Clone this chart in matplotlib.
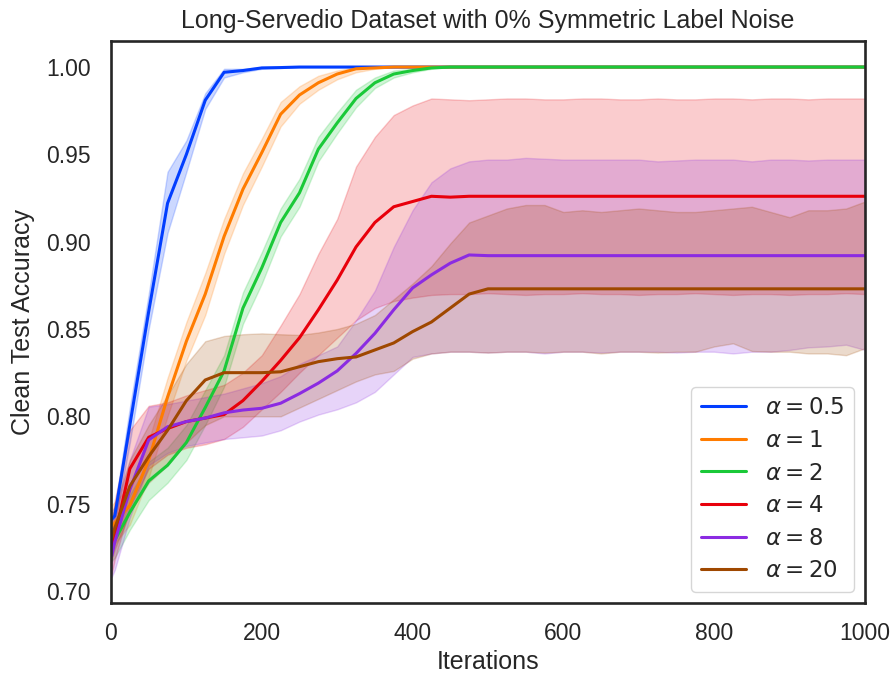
import numpy as np
import matplotlib
matplotlib.use('agg')
import matplotlib.pyplot as plt
import seaborn as sns

sns.set_style('white')
plt.rcParams['font.family'] = ['Liberation Sans', 'DejaVu Sans']

# iterations where accuracy was recorded
iters = [1, 5] + list(range(25, 1001, 25))

labels = [r'$\alpha = 0.5$', r'$\alpha = 1$', r'$\alpha = 2$',
          r'$\alpha = 4$', r'$\alpha = 8$', r'$\alpha = 20$']
colors = sns.color_palette('bright', 6)

# alpha = 0.5
a05_mean = [0.741, 0.743, 0.795, 0.860, 0.922, 0.950, 0.981, 0.997, 0.998, 0.9995, 0.9997,
            1.0, 1.0, 1.0, 1.0, 1.0, 1.0, 1.0, 1.0, 1.0, 1.0, 1.0, 1.0, 1.0, 1.0, 1.0,
            1.0, 1.0, 1.0, 1.0, 1.0, 1.0, 1.0, 1.0, 1.0, 1.0, 1.0, 1.0, 1.0, 1.0, 1.0, 1.0]
a05_lo = [0.736, 0.738, 0.785, 0.850, 0.905, 0.940, 0.976, 0.994, 0.997, 0.999, 0.9995,
          1.0, 1.0, 1.0, 1.0, 1.0, 1.0, 1.0, 1.0, 1.0, 1.0, 1.0, 1.0, 1.0, 1.0, 1.0,
          1.0, 1.0, 1.0, 1.0, 1.0, 1.0, 1.0, 1.0, 1.0, 1.0, 1.0, 1.0, 1.0, 1.0, 1.0, 1.0]
a05_hi = [0.746, 0.748, 0.805, 0.870, 0.940, 0.958, 0.985, 0.999, 0.999, 1.0, 1.0,
          1.0, 1.0, 1.0, 1.0, 1.0, 1.0, 1.0, 1.0, 1.0, 1.0, 1.0, 1.0, 1.0, 1.0, 1.0,
          1.0, 1.0, 1.0, 1.0, 1.0, 1.0, 1.0, 1.0, 1.0, 1.0, 1.0, 1.0, 1.0, 1.0, 1.0, 1.0]

# alpha = 1
a1_mean = [0.737, 0.739, 0.749, 0.775, 0.811, 0.843, 0.870, 0.903, 0.930, 0.951, 0.973,
           0.984, 0.991, 0.996, 0.999, 0.9995, 1.0, 1.0, 1.0, 1.0, 1.0, 1.0, 1.0, 1.0, 1.0,
           1.0, 1.0, 1.0, 1.0, 1.0, 1.0, 1.0, 1.0, 1.0, 1.0, 1.0, 1.0, 1.0, 1.0, 1.0, 1.0, 1.0]
a1_lo = [0.725, 0.727, 0.738, 0.765, 0.800, 0.832, 0.858, 0.893, 0.921, 0.943, 0.966,
         0.979, 0.987, 0.993, 0.997, 0.999, 1.0, 1.0, 1.0, 1.0, 1.0, 1.0, 1.0, 1.0, 1.0,
         1.0, 1.0, 1.0, 1.0, 1.0, 1.0, 1.0, 1.0, 1.0, 1.0, 1.0, 1.0, 1.0, 1.0, 1.0, 1.0, 1.0]
a1_hi = [0.749, 0.751, 0.760, 0.786, 0.822, 0.854, 0.882, 0.913, 0.939, 0.959, 0.980,
         0.989, 0.995, 0.998, 1.0, 1.0, 1.0, 1.0, 1.0, 1.0, 1.0, 1.0, 1.0, 1.0, 1.0,
         1.0, 1.0, 1.0, 1.0, 1.0, 1.0, 1.0, 1.0, 1.0, 1.0, 1.0, 1.0, 1.0, 1.0, 1.0, 1.0, 1.0]

# alpha = 2
a2_mean = [0.727, 0.729, 0.745, 0.763, 0.772, 0.785, 0.805, 0.826, 0.862, 0.885, 0.911,
           0.928, 0.953, 0.968, 0.982, 0.991, 0.996, 0.998, 0.9995, 1.0, 1.0, 1.0, 1.0, 1.0,
           1.0, 1.0, 1.0, 1.0, 1.0, 1.0, 1.0, 1.0, 1.0, 1.0, 1.0, 1.0, 1.0, 1.0, 1.0, 1.0, 1.0, 1.0]
a2_lo = [0.717, 0.719, 0.735, 0.752, 0.762, 0.775, 0.795, 0.817, 0.853, 0.876, 0.903,
         0.920, 0.946, 0.962, 0.977, 0.988, 0.994, 0.997, 0.999, 1.0, 1.0, 1.0, 1.0, 1.0,
         1.0, 1.0, 1.0, 1.0, 1.0, 1.0, 1.0, 1.0, 1.0, 1.0, 1.0, 1.0, 1.0, 1.0, 1.0, 1.0, 1.0, 1.0]
a2_hi = [0.737, 0.739, 0.755, 0.774, 0.782, 0.795, 0.815, 0.835, 0.871, 0.894, 0.919,
         0.936, 0.960, 0.974, 0.987, 0.994, 0.998, 0.999, 1.0, 1.0, 1.0, 1.0, 1.0, 1.0,
         1.0, 1.0, 1.0, 1.0, 1.0, 1.0, 1.0, 1.0, 1.0, 1.0, 1.0, 1.0, 1.0, 1.0, 1.0, 1.0, 1.0, 1.0]

# alpha = 4
a4_mean = [0.7235, 0.731, 0.770, 0.788, 0.793, 0.797, 0.799, 0.801, 0.809, 0.820, 0.832,
           0.845, 0.861, 0.878, 0.897, 0.911, 0.920, 0.923, 0.926, 0.9255, 0.926, 0.926,
           0.926, 0.926, 0.926, 0.926, 0.926, 0.926, 0.926, 0.926, 0.926, 0.926, 0.926,
           0.926, 0.926, 0.926, 0.926, 0.926, 0.926, 0.926, 0.926, 0.926]
a4_lo = [0.710, 0.718, 0.748, 0.770, 0.778, 0.782, 0.784, 0.787, 0.794, 0.804, 0.814,
         0.825, 0.835, 0.845, 0.855, 0.862, 0.866, 0.868, 0.8695, 0.870, 0.870, 0.8705,
         0.870, 0.8695, 0.870, 0.870, 0.8705, 0.870, 0.870, 0.8695, 0.870, 0.870, 0.8705,
         0.870, 0.8695, 0.870, 0.870, 0.8695, 0.870, 0.870, 0.8705, 0.870]
a4_hi = [0.737, 0.752, 0.792, 0.806, 0.808, 0.812, 0.815, 0.818, 0.825, 0.835, 0.852,
         0.870, 0.893, 0.913, 0.943, 0.960, 0.9725, 0.978, 0.982, 0.9815, 0.981, 0.9815,
         0.982, 0.982, 0.9815, 0.9815, 0.982, 0.982, 0.9815, 0.9815, 0.982, 0.9815, 0.9815,
         0.982, 0.982, 0.9815, 0.982, 0.982, 0.9815, 0.982, 0.982, 0.982]

# alpha = 8
a8_mean = [0.720, 0.728, 0.758, 0.7865, 0.794, 0.797, 0.799, 0.802, 0.8036, 0.8046, 0.8075,
           0.813, 0.819, 0.826, 0.836, 0.8475, 0.861, 0.8735, 0.881, 0.8877, 0.8924, 0.892,
           0.892, 0.892, 0.892, 0.892, 0.892, 0.892, 0.892, 0.892, 0.892, 0.892, 0.892,
           0.892, 0.892, 0.892, 0.892, 0.892, 0.892, 0.892, 0.892, 0.892]
a8_lo = [0.708, 0.712, 0.742, 0.772, 0.779, 0.783, 0.785, 0.787, 0.788, 0.789, 0.792,
         0.797, 0.801, 0.804, 0.808, 0.814, 0.824, 0.834, 0.836, 0.837, 0.837, 0.8365,
         0.837, 0.837, 0.836, 0.837, 0.837, 0.8365, 0.837, 0.837, 0.837, 0.8365, 0.837,
         0.837, 0.836, 0.837, 0.837, 0.838, 0.8395, 0.840, 0.841, 0.838]
a8_hi = [0.732, 0.744, 0.775, 0.8055, 0.807, 0.809, 0.811, 0.813, 0.816, 0.819, 0.823,
         0.830, 0.835, 0.840, 0.855, 0.872, 0.897, 0.918, 0.934, 0.942, 0.946, 0.947,
         0.947, 0.948, 0.9475, 0.947, 0.947, 0.947, 0.947, 0.947, 0.946, 0.9465, 0.947,
         0.947, 0.947, 0.946, 0.947, 0.947, 0.9465, 0.947, 0.947, 0.947]

# alpha = 20
a20_mean = [0.730, 0.736, 0.760, 0.777, 0.792, 0.809, 0.8208, 0.825, 0.825, 0.825, 0.8255,
            0.8284, 0.8313, 0.833, 0.834, 0.838, 0.842, 0.8485, 0.854, 0.862, 0.870, 0.873,
            0.873, 0.873, 0.873, 0.873, 0.873, 0.873, 0.873, 0.873, 0.873, 0.873, 0.873,
            0.873, 0.873, 0.873, 0.873, 0.873, 0.873, 0.873, 0.873, 0.873]
a20_lo = [0.718, 0.724, 0.745, 0.762, 0.772, 0.785, 0.795, 0.800, 0.800, 0.800, 0.800,
          0.805, 0.810, 0.815, 0.820, 0.824, 0.826, 0.833, 0.836, 0.837, 0.837, 0.8365,
          0.837, 0.837, 0.8365, 0.837, 0.837, 0.836, 0.837, 0.837, 0.8365, 0.837, 0.837,
          0.840, 0.8418, 0.8374, 0.837, 0.837, 0.836, 0.836, 0.835, 0.839]
a20_hi = [0.742, 0.748, 0.775, 0.795, 0.812, 0.830, 0.843, 0.846, 0.847, 0.8475, 0.847,
          0.8466, 0.848, 0.850, 0.853, 0.858, 0.867, 0.876, 0.886, 0.899, 0.911, 0.915,
          0.919, 0.921, 0.921, 0.917, 0.918, 0.917, 0.918, 0.919, 0.918, 0.917, 0.917,
          0.918, 0.919, 0.920, 0.917, 0.914, 0.918, 0.918, 0.919, 0.923]

means = [a05_mean, a1_mean, a2_mean, a4_mean, a8_mean, a20_mean]
lows = [a05_lo, a1_lo, a2_lo, a4_lo, a8_lo, a20_lo]
highs = [a05_hi, a1_hi, a2_hi, a4_hi, a8_hi, a20_hi]

fig = plt.figure(figsize=(8.93, 6.77), dpi=100)
ax = fig.add_axes([0.1243, 0.1093, 0.8443, 0.8301])

for m, lo, hi, c, lab in zip(means, lows, highs, colors, labels):
    ax.fill_between(iters, lo, hi, color=c, alpha=0.2)
    ax.plot(iters, m, color=c, lw=2.2, label=lab)

ax.set_xlim(0, 1000)
ax.set_ylim(0.6931, 1.0149)
ax.set_xticks([0, 200, 400, 600, 800, 1000])
ax.set_yticks([0.70, 0.75, 0.80, 0.85, 0.90, 0.95, 1.00])
ax.set_yticklabels(['0.70', '0.75', '0.80', '0.85', '0.90', '0.95', '1.00'])
ax.tick_params(labelsize=16.5, colors='#262626')
ax.tick_params(axis='x', pad=10)
ax.tick_params(axis='y', pad=11)
ax.set_xlabel('Iterations', fontsize=18, color='#262626', labelpad=4)
ax.set_ylabel('Clean Test Accuracy', fontsize=18, color='#262626', labelpad=8)
ax.set_title('Long-Servedio Dataset with 0% Symmetric Label Noise', fontsize=18,
             color='#262626', pad=9.5)
for s in ax.spines.values():
    s.set_color('#262626')
    s.set_linewidth(1.9)

ax.legend(loc='lower right', fontsize=16.5, borderaxespad=0.5, handlelength=2.0,
          labelspacing=0.42)

plt.savefig('out.png', dpi=100)
